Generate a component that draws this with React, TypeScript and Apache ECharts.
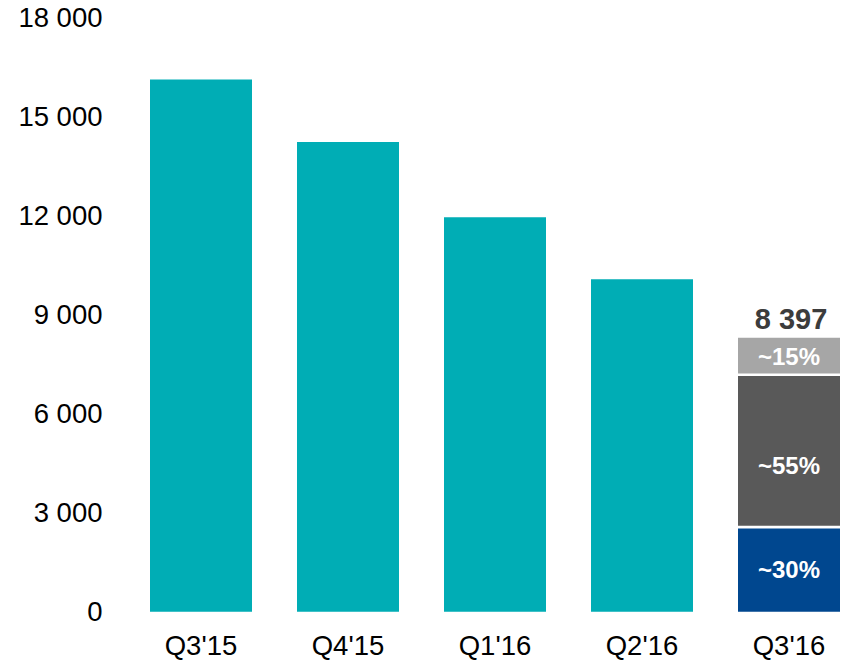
import React, { useEffect, useRef } from "react";
import * as echarts from "echarts";

const categories = ["Q3'15", "Q4'15", "Q1'16", "Q2'16", "Q3'16"];
const barValues: (number | string)[] = [16110, 14220, 11940, 10060, "-"];
const splitCategory = "Q3'16";
const segmentValues = [2560, 4610, 1120];
const segmentLabels = ["~30%", "~55%", "~15%"];
const reportedTotal = 8397;
const yTicks = { min: 0, max: 18000, interval: 3000 };

const segmentColors = ["#00478F", "#595959", "#A6A6A6"];
const segmentLabelOffsets = [0, 15, 0];
const BAR_W = 102;

const fmt = (v: number) => String(v).replace(/\B(?=(\d{3})+(?!\d))/g, " ");

export default function App() {
  const ref = useRef<HTMLDivElement>(null);
  useEffect(() => {
    if (!ref.current) return;
    const chart = echarts.init(ref.current, undefined, { renderer: "svg" });
    const font = "'Liberation Sans', Arial, sans-serif";
    let acc = 0;
    const segData = segmentValues.map((v, i) => {
      const row = [splitCategory, acc, acc + v, i];
      acc += v;
      return row;
    });
    const stackTop = acc;
    const lastIdx = segmentValues.length - 1;
    chart.setOption({
      animation: false,
      backgroundColor: "#ffffff",
      grid: { left: 127.5, right: -14.5, top: 17, bottom: 50.3, containLabel: false, outerBoundsMode: "none" },
      xAxis: {
        type: "category",
        data: categories,
        axisLine: { show: false },
        axisTick: { show: false },
        axisLabel: { color: "#000000", fontSize: 27.5, fontFamily: font, margin: 20 },
      },
      yAxis: {
        type: "value",
        min: yTicks.min,
        max: yTicks.max,
        interval: yTicks.interval,
        splitLine: { show: false },
        axisLine: { show: false },
        axisTick: { show: false },
        axisLabel: { color: "#000000", fontSize: 27.5, fontFamily: font, margin: 25, formatter: (v: number) => fmt(v) },
      },
      series: [
        { type: "bar", barWidth: BAR_W, data: barValues, itemStyle: { color: "#00ADB5" } },
        {
          type: "custom",
          data: segData,
          encode: { x: 0, y: [1, 2] },
          renderItem: (params: any, api: any) => {
            const cat = api.value(0);
            const y0 = api.value(1) as number;
            const y1 = api.value(2) as number;
            const ci = api.value(3) as number;
            const p0 = api.coord([cat, y0]);
            const p1 = api.coord([cat, y1]);
            const gap = 1.3;
            const bottom = y0 > 0 ? p0[1] - gap : p0[1];
            const top = ci < lastIdx ? p1[1] + gap : p1[1];
            const left = p0[0] - BAR_W / 2;
            return {
              type: "group",
              children: [
                {
                  type: "rect",
                  shape: { x: left, y: top, width: BAR_W, height: bottom - top },
                  style: { fill: segmentColors[ci] },
                },
                {
                  type: "text",
                  x: p0[0],
                  y: (p0[1] + p1[1]) / 2 + segmentLabelOffsets[ci],
                  style: {
                    text: segmentLabels[ci],
                    fill: "#ffffff",
                    fontSize: 24,
                    fontWeight: "bold",
                    fontFamily: font,
                    align: "center",
                    verticalAlign: "middle",
                  },
                },
              ],
            };
          },
        },
        {
          type: "scatter",
          data: [[splitCategory, stackTop]],
          symbolSize: 0,
          silent: true,
          itemStyle: { opacity: 1 },
          label: {
            show: true,
            position: "top",
            distance: 4,
            formatter: () => fmt(reportedTotal),
            color: "#3C3C3C",
            fontWeight: "bold",
            fontSize: 29,
            fontFamily: font,
            offset: [2, 0],
          },
        },
      ],
    });
    return () => chart.dispose();
  }, []);
  return <div ref={ref} style={{ position: "fixed", left: 0, top: 0, width: 848, height: 662 }} />;
}
